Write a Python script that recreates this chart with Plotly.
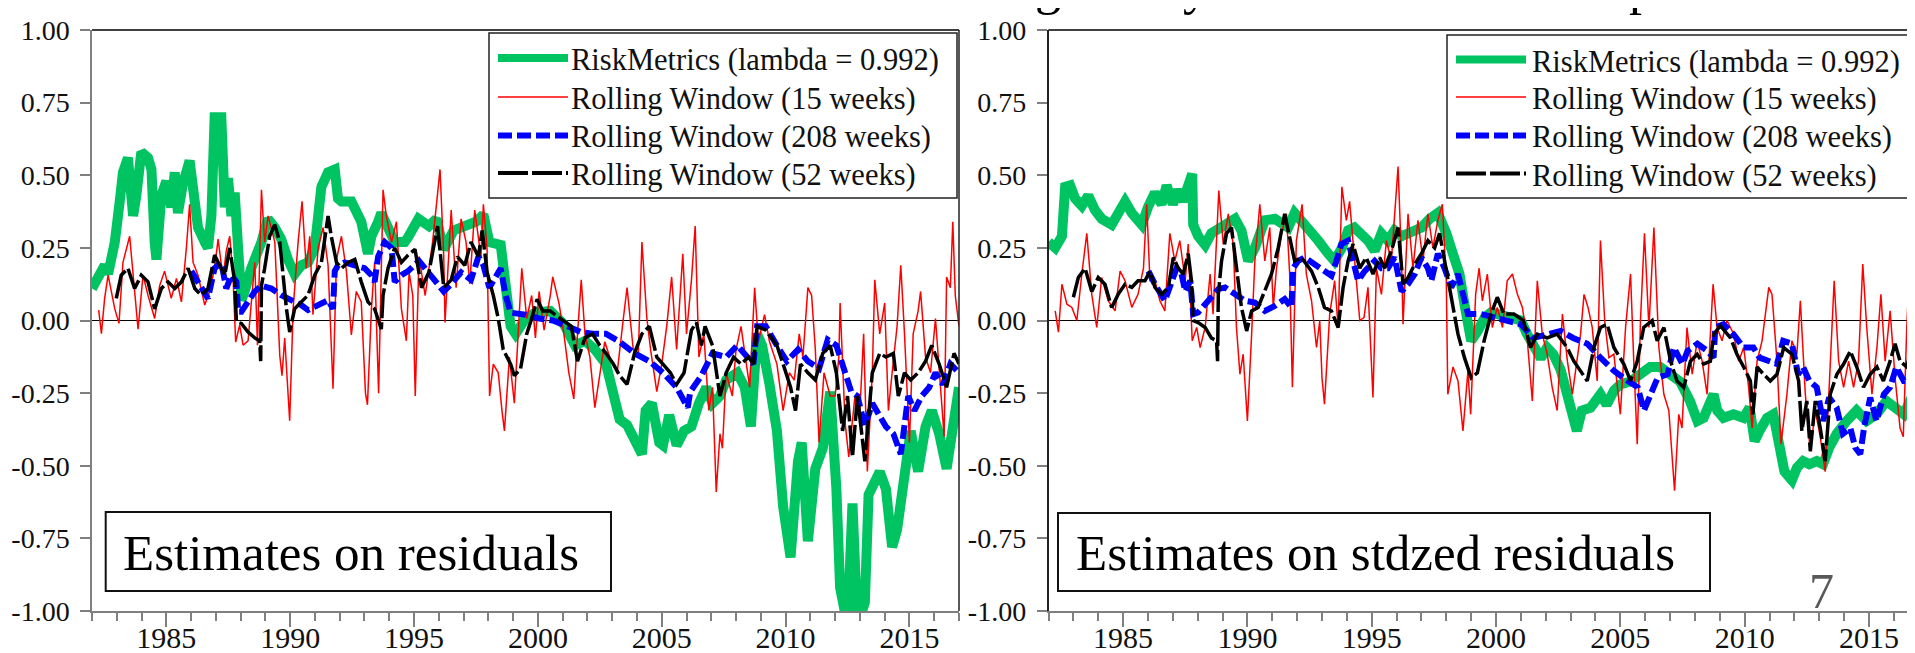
import plotly.graph_objects as go

W, H = 1915, 653

# ---------------- Panel 1: Estimates on residuals ----------------
res_rm_year = [1982.0, 1982.51, 1982.65, 1982.92, 1983.12, 1983.25, 1983.45, 1983.66, 1983.79, 1983.99,
               1984.26, 1984.4, 1984.53, 1984.6, 1984.8, 1985.0, 1985.2, 1985.34, 1985.47, 1985.67,
               1985.94, 1986.08, 1986.28, 1986.55, 1986.68, 1986.82, 1986.95, 1987.22, 1987.29, 1987.36,
               1987.49, 1987.63, 1987.76, 1987.9, 1988.03, 1988.16, 1988.43, 1988.84, 1989.1, 1989.38,
               1989.64, 1989.91, 1990.18, 1990.45, 1990.72, 1990.99, 1991.26, 1991.53, 1991.8, 1991.93,
               1992.07, 1992.47, 1992.87, 1993.14, 1993.28, 1993.55, 1993.68, 1993.95, 1994.22, 1994.62,
               1994.75, 1995.18, 1995.6, 1995.9, 1996.2, 1996.6, 1997.04, 1997.5, 1997.8, 1998.04,
               1998.5, 1998.7, 1998.9, 1999.1, 1999.5, 1999.9, 2000.5, 2001.05, 2001.5, 2001.9,
               2002.3, 2002.75, 2003.05, 2003.3, 2003.6, 2003.9, 2004.2, 2004.35, 2004.6, 2004.9,
               2005.05, 2005.3, 2005.6, 2005.9, 2006.2, 2006.5, 2006.8, 2007.05, 2007.35, 2007.6,
               2008.05, 2008.35, 2008.6, 2008.85, 2009.05, 2009.35, 2009.65, 2009.9, 2010.2, 2010.5,
               2010.65, 2010.9, 2011.2, 2011.5, 2011.8, 2012.05, 2012.2, 2012.5, 2012.7, 2012.9,
               2013.2, 2013.35, 2013.8, 2014.05, 2014.3, 2014.5, 2014.8, 2015.05, 2015.35, 2015.65,
               2015.9, 2016.2, 2016.5, 2016.8, 2017.0]
res_rm_val = [0.11, 0.19, 0.16, 0.27, 0.41, 0.51, 0.56, 0.36, 0.43, 0.58,
              0.56, 0.52, 0.27, 0.21, 0.43, 0.48, 0.39, 0.51, 0.37, 0.47,
              0.55, 0.43, 0.32, 0.27, 0.25, 0.36, 0.70, 0.70, 0.56, 0.39,
              0.49, 0.36, 0.44, 0.27, 0.07, 0.10, 0.18, 0.27, 0.35, 0.32,
              0.28, 0.21, 0.16, 0.19, 0.20, 0.25, 0.46, 0.51, 0.52, 0.42,
              0.41, 0.41, 0.34, 0.23, 0.29, 0.34, 0.37, 0.32, 0.27, 0.27,
              0.285, 0.35, 0.325, 0.35, 0.245, 0.31, 0.325, 0.34, 0.365, 0.27,
              0.26, 0.11, -0.02, -0.046, 0.007, 0.027, 0.033, -0.013, -0.086, -0.07,
              -0.10, -0.15, -0.26, -0.34, -0.36, -0.42, -0.46, -0.31, -0.285, -0.42,
              -0.43, -0.325, -0.43, -0.38, -0.365, -0.285, -0.23, -0.285, -0.26, -0.205,
              -0.18, -0.23, -0.365, -0.046, -0.086, -0.22, -0.38, -0.64, -0.815, -0.485,
              -0.42, -0.76, -0.51, -0.44, -0.245, -0.58, -0.92, -1.05, -0.63, -1.05,
              -0.97, -0.6, -0.52, -0.58, -0.78, -0.72, -0.52, -0.38, -0.52, -0.365,
              -0.31, -0.39, -0.51, -0.31, -0.23]

res_rw15_year = [1982.27, 1982.38, 1982.51, 1982.65, 1982.78, 1982.92, 1983.09, 1983.25, 1983.52, 1983.66,
                 1983.86, 1984.06, 1984.26, 1984.53, 1984.73, 1984.93, 1985.2, 1985.41, 1985.61, 1985.81,
                 1985.94, 1986.08, 1986.28, 1986.55, 1986.75, 1986.95, 1987.09, 1987.29, 1987.42, 1987.56,
                 1987.69, 1987.8, 1987.96, 1988.1, 1988.3, 1988.57, 1988.68, 1988.84, 1988.97, 1989.11,
                 1989.38, 1989.58, 1989.67, 1989.78, 1989.98, 1990.12, 1990.32, 1990.48, 1990.65, 1990.79,
                 1990.92, 1991.13, 1991.33, 1991.53, 1991.73, 1991.87, 1992.07, 1992.27, 1992.47, 1992.67,
                 1992.87, 1993.04, 1993.12, 1993.28, 1993.41, 1993.57, 1993.75, 1993.88, 1994.09, 1994.29,
                 1994.49, 1994.69, 1994.8, 1994.95, 1995.05, 1995.2, 1995.45, 1995.75, 1996.05, 1996.2,
                 1996.25, 1996.5, 1996.7, 1996.9, 1997.1, 1997.25, 1997.45, 1997.7, 1997.8, 1997.95,
                 1998.05, 1998.2, 1998.4, 1998.55, 1998.65, 1998.85, 1999.05, 1999.35, 1999.55, 1999.75,
                 1999.9, 2000.05, 2000.25, 2000.5, 2000.6, 2000.85, 2001.05, 2001.25, 2001.45, 2001.6,
                 2001.75, 2001.9, 2002.1, 2002.3, 2002.5, 2002.7, 2002.9, 2003.2, 2003.45, 2003.6,
                 2003.85, 2004.05, 2004.2, 2004.4, 2004.55, 2004.8, 2005.0, 2005.2, 2005.4, 2005.6,
                 2005.85, 2006.0, 2006.2, 2006.35, 2006.5, 2006.7, 2006.9, 2007.05, 2007.2, 2007.35,
                 2007.45, 2007.6, 2007.85, 2008.0, 2008.2, 2008.4, 2008.55, 2008.75, 2008.9, 2009.15,
                 2009.35, 2009.65, 2009.9, 2010.15, 2010.35, 2010.55, 2010.7, 2010.9, 2011.05, 2011.2,
                 2011.35, 2011.55, 2011.8, 2012.0, 2012.15, 2012.2, 2012.4, 2012.55, 2012.8, 2013.0,
                 2013.15, 2013.3, 2013.5, 2013.6, 2013.8, 2014.0, 2014.15, 2014.3, 2014.5, 2014.65,
                 2014.8, 2015.0, 2015.15, 2015.35, 2015.45, 2015.65, 2015.85, 2016.05, 2016.25, 2016.4,
                 2016.5, 2016.65, 2016.75, 2016.85, 2017.0]
res_rw15_val = [0.036, -0.045, 0.076, 0.156, 0.10, 0.04, -0.01, 0.20, 0.29, 0.156,
                -0.03, 0.156, 0.087, 0.007, 0.12, 0.17, 0.076, 0.145, 0.064, 0.25,
                0.40, 0.20, 0.156, 0.053, 0.10, 0.18, 0.28, 0.145, 0.24, 0.29,
                0.156, -0.074, -0.016, -0.085, -0.07, 0.20, -0.085, 0.45, 0.27, 0.36,
                0.27, -0.12, -0.19, -0.06, -0.345, 0.04, 0.27, 0.41, 0.18, 0.29,
                0.02, 0.25, 0.32, 0.19, -0.235, 0.21, 0.29, 0.17, -0.05, 0.10,
                0.064, -0.25, -0.29, 0.04, 0.20, -0.25, 0.45, 0.36, 0.27, 0.34,
                0.04, -0.07, 0.166, 0.086, -0.26, 0.22, 0.086, 0.27, 0.52, 0.22,
                -0.007, 0.38, 0.113, 0.35, 0.27, 0.126, 0.38, 0.22, 0.40, 0.245,
                -0.26, -0.15, -0.18, -0.31, -0.38, -0.126, -0.285, 0.18, 0.007, 0.086,
                -0.06, 0.10, -0.033, 0.086, 0.15, 0.06, -0.046, -0.18, -0.27, -0.046,
                0.14, -0.046, -0.126, -0.30, -0.18, -0.073, -0.126, -0.18, 0.007, 0.113,
                -0.10, -0.126, 0.27, 0.007, -0.10, -0.245, -0.15, -0.02, 0.15, -0.10,
                0.23, -0.046, 0.14, 0.325, -0.126, -0.046, -0.31, -0.23, -0.59, -0.39,
                -0.44, -0.18, -0.26, -0.10, -0.02, -0.15, -0.23, 0.113, -0.073, 0.02,
                -0.073, -0.15, -0.31, -0.18, -0.205, -0.046, -0.126, 0.113, 0.086, -0.10,
                -0.42, -0.18, -0.26, -0.26, -0.126, 0.06, -0.35, -0.47, -0.26, -0.31,
                -0.046, -0.52, -0.18, 0.14, -0.046, 0.06, -0.31, -0.18, -0.02, 0.19,
                -0.046, -0.42, -0.046, 0.033, 0.10, -0.126, -0.18, 0.007, -0.245, -0.40,
                0.15, 0.113, 0.34, 0.086, -0.02]

res_rw208_year = [1986.01, 1986.68, 1986.95, 1987.22, 1987.42, 1987.63, 1987.83, 1987.9, 1988.03, 1988.3,
                  1988.57, 1988.84, 1989.24, 1989.64, 1990.05, 1990.45, 1990.72, 1991.13, 1991.53, 1991.73,
                  1991.8, 1991.93, 1992.2, 1992.6, 1993.0, 1993.28, 1993.41, 1993.55, 1993.82, 1994.09,
                  1994.22, 1994.49, 1994.76, 1995.2, 1995.6, 1996.2, 1996.5, 1996.9, 1997.3, 1997.6,
                  1997.8, 1998.04, 1998.5, 1998.7, 1998.9, 1999.5, 2000.05, 2000.6, 2001.2, 2001.75,
                  2002.3, 2002.75, 2003.3, 2003.9, 2004.5, 2005.05, 2005.6, 2006.05, 2006.15, 2006.6,
                  2007.05, 2007.6, 2008.05, 2008.5, 2008.7, 2008.85, 2009.2, 2009.65, 2010.05, 2010.5,
                  2010.9, 2011.35, 2011.7, 2012.05, 2012.35, 2012.65, 2012.9, 2013.2, 2013.5, 2013.8,
                  2014.05, 2014.35, 2014.65, 2014.95, 2015.2, 2015.5, 2015.8, 2016.05, 2016.35, 2016.65,
                  2017.0]
res_rw208_val = [0.17, 0.076, 0.18, 0.20, 0.11, 0.156, 0.133, 0.03, 0.03, 0.064,
                 0.10, 0.12, 0.11, 0.087, 0.07, 0.053, 0.036, 0.053, 0.07, 0.04,
                 0.17, 0.19, 0.20, 0.19, 0.18, 0.156, 0.133, 0.22, 0.27, 0.25,
                 0.133, 0.156, 0.17, 0.205, 0.166, 0.10, 0.126, 0.166, 0.14, 0.22,
                 0.19, 0.113, 0.18, 0.086, 0.027, 0.02, 0.007, 0.0, -0.02, -0.04,
                 -0.046, -0.046, -0.073, -0.113, -0.14, -0.18, -0.23, -0.30, -0.245, -0.19,
                 -0.113, -0.126, -0.086, -0.126, -0.15, -0.02, -0.02, -0.086, -0.14, -0.10,
                 -0.14, -0.166, -0.066, -0.086, -0.166, -0.245, -0.26, -0.365, -0.285, -0.325,
                 -0.365, -0.39, -0.46, -0.26, -0.31, -0.26, -0.23, -0.18, -0.22, -0.15,
                 -0.18]

res_rw52_year = [1982.98, 1983.18, 1983.45, 1983.72, 1983.99, 1984.26, 1984.53, 1984.8, 1985.07, 1985.34,
                 1985.61, 1985.88, 1986.15, 1986.41, 1986.68, 1986.95, 1987.15, 1987.36, 1987.56, 1987.76,
                 1987.83, 1988.03, 1988.3, 1988.57, 1988.77, 1988.81, 1988.84, 1988.97, 1989.17, 1989.38,
                 1989.58, 1989.71, 1989.85, 1989.98, 1990.18, 1990.45, 1990.72, 1990.99, 1991.26, 1991.53,
                 1991.66, 1991.87, 1992.07, 1992.34, 1992.61, 1992.87, 1993.14, 1993.41, 1993.68, 1993.75,
                 1993.95, 1994.22, 1994.49, 1994.76, 1995.04, 1995.3, 1995.6, 1995.95, 1996.2, 1996.5,
                 1996.75, 1997.05, 1997.3, 1997.6, 1997.75, 1997.95, 1998.2, 1998.4, 1998.6, 1998.9,
                 1999.05, 1999.3, 1999.55, 1999.75, 1999.97, 2000.2, 2000.5, 2000.9, 2001.35, 2001.6,
                 2001.9, 2002.2, 2002.5, 2002.75, 2003.05, 2003.3, 2003.6, 2003.9, 2004.2, 2004.5,
                 2004.8, 2005.05, 2005.35, 2005.6, 2005.9, 2006.2, 2006.4, 2006.6, 2006.75, 2007.05,
                 2007.35, 2007.6, 2007.9, 2008.2, 2008.5, 2008.7, 2008.85, 2009.2, 2009.65, 2009.9,
                 2010.2, 2010.4, 2010.6, 2010.9, 2011.2, 2011.5, 2011.8, 2012.05, 2012.3, 2012.5,
                 2012.7, 2012.9, 2013.2, 2013.5, 2013.8, 2014.05, 2014.35, 2014.55, 2014.8, 2015.05,
                 2015.35, 2015.65, 2015.9, 2016.2, 2016.5, 2016.8, 2017.0]
res_rw52_val = [0.076, 0.156, 0.18, 0.11, 0.156, 0.133, 0.04, 0.11, 0.133, 0.11,
                0.133, 0.18, 0.11, 0.087, 0.11, 0.225, 0.19, 0.156, 0.25, 0.133,
                -0.005, -0.01, -0.04, -0.06, -0.07, -0.14, 0.12, 0.18, 0.29, 0.33,
                0.27, 0.156, 0.04, -0.04, 0.04, 0.064, 0.087, 0.156, 0.20, 0.36,
                0.29, 0.20, 0.18, 0.20, 0.21, 0.133, 0.064, 0.04, -0.03, 0.087,
                0.18, 0.25, 0.20, 0.225, 0.245, 0.113, 0.166, 0.325, 0.113, 0.14,
                0.22, 0.19, 0.27, 0.22, 0.31, 0.166, 0.086, 0.007, -0.10, -0.15,
                -0.19, -0.166, -0.046, 0.007, 0.073, 0.033, 0.033, 0.007, -0.02, -0.14,
                -0.06, -0.046, -0.086, -0.113, -0.15, -0.19, -0.22, -0.113, -0.046, -0.02,
                -0.126, -0.15, -0.18, -0.22, -0.18, -0.033, -0.007, -0.086, -0.02, -0.086,
                -0.26, -0.18, -0.126, -0.15, -0.126, -0.15, -0.02, -0.033, -0.086, -0.15,
                -0.23, -0.31, -0.15, -0.18, -0.205, -0.113, -0.086, -0.18, -0.38, -0.26,
                -0.47, -0.26, -0.485, -0.18, -0.113, -0.126, -0.113, -0.26, -0.18, -0.205,
                -0.18, -0.14, -0.086, -0.15, -0.23, -0.113, -0.15]

# ---------------- Panel 2: Estimates on stdzed residuals ----------------
std_rm_year = [1982.0, 1982.27, 1982.54, 1982.67, 1982.87, 1983.07, 1983.34, 1983.6, 1983.87, 1984.14,
               1984.54, 1984.8, 1985.08, 1985.35, 1985.75, 1986.0, 1986.28, 1986.55, 1986.75, 1987.0,
               1987.2, 1987.4, 1987.6, 1987.78, 1987.82, 1988.02, 1988.3, 1988.55, 1988.83, 1989.23,
               1989.5, 1989.76, 1990.03, 1990.3, 1990.7, 1991.1, 1991.37, 1991.64, 1991.9, 1992.17,
               1992.58, 1992.85, 1993.25, 1993.5, 1993.8, 1994.05, 1994.3, 1994.6, 1994.85, 1995.12,
               1995.39, 1995.65, 1995.92, 1996.2, 1996.46, 1996.73, 1997.0, 1997.33, 1997.66, 1998.0,
               1998.27, 1998.53, 1998.73, 1999.0, 1999.27, 1999.54, 1999.8, 2000.2, 2000.6, 2001.0,
               2001.25, 2001.5, 2001.8, 2002.05, 2002.3, 2002.6, 2002.85, 2003.1, 2003.25, 2003.45,
               2003.8, 2004.2, 2004.45, 2004.75, 2005.0, 2005.4, 2005.8, 2006.2, 2006.6, 2007.0,
               2007.4, 2007.8, 2008.1, 2008.35, 2008.75, 2008.9, 2009.15, 2009.55, 2009.95, 2010.2,
               2010.4, 2010.6, 2010.9, 2011.15, 2011.4, 2011.6, 2011.9, 2012.1, 2012.35, 2012.6,
               2012.9, 2013.15, 2013.4, 2013.7, 2014.1, 2014.5, 2014.9, 2015.3, 2015.7, 2016.1,
               2016.4, 2016.65, 2016.9, 2017.0]
std_rm_val = [0.27, 0.25, 0.29, 0.46, 0.465, 0.42, 0.395, 0.43, 0.38, 0.35,
              0.33, 0.37, 0.41, 0.37, 0.33, 0.39, 0.44, 0.40, 0.465, 0.40,
              0.45, 0.41, 0.45, 0.505, 0.33, 0.29, 0.26, 0.30, 0.315, 0.34,
              0.35, 0.31, 0.205, 0.25, 0.345, 0.35, 0.33, 0.32, 0.37, 0.345,
              0.31, 0.275, 0.23, 0.205, 0.25, 0.31, 0.32, 0.30, 0.275, 0.24,
              0.30, 0.275, 0.31, 0.29, 0.30, 0.31, 0.32, 0.35, 0.37, 0.30,
              0.22, 0.16, 0.056, -0.07, -0.035, 0.01, 0.028, 0.016, 0.005, 0.0,
              -0.047, -0.08, -0.13, -0.093, -0.116, -0.17, -0.24, -0.31, -0.38, -0.31,
              -0.30, -0.254, -0.29, -0.24, -0.22, -0.21, -0.185, -0.16, -0.16, -0.185,
              -0.21, -0.277, -0.346, -0.335, -0.254, -0.31, -0.335, -0.323, -0.335, -0.30,
              -0.415, -0.38, -0.335, -0.323, -0.426, -0.52, -0.55, -0.507, -0.484, -0.495,
              -0.484, -0.495, -0.438, -0.39, -0.346, -0.31, -0.346, -0.323, -0.277, -0.30,
              -0.323, -0.277, -0.23, -0.24]

std_rw15_year = [1982.27, 1982.4, 1982.54, 1982.74, 1982.94, 1983.14, 1983.34, 1983.54, 1983.74, 1983.94,
                 1984.14, 1984.4, 1984.68, 1984.88, 1985.08, 1985.35, 1985.6, 1985.82, 1985.95, 1986.08,
                 1986.28, 1986.48, 1986.68, 1986.88, 1987.08, 1987.28, 1987.5, 1987.62, 1987.78, 1987.96,
                 1988.1, 1988.3, 1988.5, 1988.62, 1988.85, 1989.03, 1989.23, 1989.43, 1989.56, 1989.7,
                 1989.83, 1990.0, 1990.17, 1990.3, 1990.5, 1990.7, 1990.9, 1991.04, 1991.17, 1991.37,
                 1991.57, 1991.7, 1991.81, 1991.97, 1992.2, 1992.37, 1992.58, 1992.78, 1992.91, 1993.0,
                 1993.1, 1993.31, 1993.51, 1993.65, 1993.8, 1993.98, 1994.11, 1994.32, 1994.52, 1994.69,
                 1994.85, 1995.05, 1995.19, 1995.39, 1995.59, 1995.79, 1996.06, 1996.2, 1996.26, 1996.46,
                 1996.66, 1996.86, 1997.06, 1997.26, 1997.46, 1997.66, 1997.84, 1998.0, 1998.06, 1998.27,
                 1998.47, 1998.67, 1998.87, 1998.98, 1999.18, 1999.32, 1999.45, 1999.65, 1999.85, 2000.05,
                 2000.26, 2000.45, 2000.66, 2000.86, 2001.06, 2001.26, 2001.46, 2001.66, 2001.86, 2002.06,
                 2002.26, 2002.46, 2002.67, 2002.87, 2003.07, 2003.4, 2003.54, 2003.7, 2003.87, 2004.07,
                 2004.2, 2004.37, 2004.54, 2004.74, 2005.0, 2005.21, 2005.41, 2005.54, 2005.68, 2005.81,
                 2005.97, 2006.15, 2006.35, 2006.55, 2006.75, 2006.95, 2007.18, 2007.35, 2007.48, 2007.68,
                 2007.89, 2008.09, 2008.29, 2008.49, 2008.73, 2008.89, 2009.09, 2009.29, 2009.56, 2009.76,
                 2009.96, 2010.16, 2010.3, 2010.5, 2010.7, 2010.97, 2011.1, 2011.3, 2011.46, 2011.7,
                 2011.9, 2012.1, 2012.24, 2012.44, 2012.64, 2012.84, 2013.04, 2013.24, 2013.44, 2013.6,
                 2013.78, 2013.98, 2014.18, 2014.38, 2014.58, 2014.75, 2014.91, 2015.12, 2015.32, 2015.48,
                 2015.65, 2015.85, 2016.05, 2016.25, 2016.38, 2016.52, 2016.63, 2016.76, 2016.85, 2016.98]
std_rw15_val = [0.033, -0.04, 0.125, 0.056, 0.045, 0.0, 0.16, 0.30, 0.09, -0.024,
                0.148, 0.068, 0.033, 0.17, 0.137, 0.045, 0.09, 0.18, 0.40, 0.137,
                0.137, 0.068, 0.033, 0.30, 0.205, 0.275, 0.137, 0.263, -0.07, -0.024,
                -0.093, -0.024, 0.16, 0.022, 0.447, 0.263, 0.367, 0.263, -0.024, -0.185,
                -0.116, -0.346, -0.047, 0.205, 0.40, 0.205, 0.32, 0.045, 0.18, 0.30,
                0.367, 0.16, -0.23, 0.275, 0.40, 0.16, 0.068, -0.093, 0.0, -0.197,
                -0.288, 0.022, 0.137, -0.024, 0.46, 0.345, 0.41, 0.205, 0.0, 0.01,
                0.114, -0.265, 0.18, 0.09, 0.275, 0.205, 0.53, 0.205, -0.013, 0.367,
                0.18, 0.345, 0.205, 0.367, 0.25, 0.345, 0.40, 0.137, -0.254, -0.16,
                -0.208, -0.38, -0.174, -0.323, 0.09, 0.18, 0.068, 0.16, -0.024, 0.045,
                -0.024, 0.137, 0.16, 0.09, 0.045, -0.07, -0.277, 0.137, -0.047, -0.116,
                -0.23, -0.31, 0.022, -0.14, -0.254, -0.047, 0.09, 0.045, -0.024, -0.208,
                0.275, 0.0, -0.128, -0.116, -0.323, -0.024, 0.16, -0.14, -0.426, 0.0,
                0.30, -0.024, 0.32, -0.093, -0.254, -0.31, -0.586, -0.323, -0.37, -0.024,
                -0.185, -0.07, -0.14, -0.254, 0.125, -0.024, -0.07, 0.0, -0.047, -0.14,
                -0.093, -0.23, -0.37, -0.14, -0.07, 0.114, 0.09, -0.14, -0.426, -0.254,
                -0.07, -0.116, 0.068, -0.254, -0.45, -0.31, -0.40, -0.52, -0.14, 0.137,
                -0.14, -0.23, -0.14, -0.23, -0.14, 0.194, -0.024, -0.254, -0.093, 0.09,
                -0.14, 0.033, -0.197, -0.37, -0.40, -0.024, 0.18, 0.345, 0.09, -0.14]

std_rw208_year = [1986.02, 1986.28, 1986.68, 1986.95, 1987.15, 1987.35, 1987.5, 1987.7, 1987.82, 1988.02,
                  1988.3, 1988.55, 1988.83, 1989.1, 1989.5, 1989.9, 1990.3, 1990.7, 1991.1, 1991.5,
                  1991.77, 1991.84, 1992.04, 1992.3, 1992.7, 1993.1, 1993.38, 1993.58, 1993.78, 1994.05,
                  1994.25, 1994.45, 1994.72, 1995.12, 1995.39, 1995.65, 1995.92, 1996.2, 1996.46, 1996.73,
                  1997.0, 1997.26, 1997.4, 1997.66, 1997.93, 1998.2, 1998.47, 1998.67, 1998.87, 1999.4,
                  1999.92, 2000.45, 2001.0, 2001.5, 2002.05, 2002.6, 2003.1, 2003.67, 2004.2, 2004.75,
                  2005.3, 2005.7, 2005.95, 2006.2, 2006.5, 2006.9, 2007.15, 2007.5, 2007.7, 2008.1,
                  2008.5, 2008.75, 2008.82, 2009.15, 2009.55, 2009.95, 2010.35, 2010.6, 2011.0, 2011.3,
                  2011.55, 2011.9, 2012.15, 2012.35, 2012.6, 2012.9, 2013.15, 2013.4, 2013.7, 2013.95,
                  2014.25, 2014.45, 2014.65, 2014.8, 2015.05, 2015.3, 2015.6, 2015.85, 2016.1, 2016.4,
                  2016.65, 2016.85, 2017.0]
std_rw208_val = [0.17, 0.125, 0.068, 0.137, 0.18, 0.16, 0.10, 0.137, 0.022, 0.028,
                 0.056, 0.08, 0.108, 0.114, 0.09, 0.068, 0.062, 0.033, 0.05, 0.074,
                 0.045, 0.18, 0.205, 0.217, 0.194, 0.17, 0.154, 0.205, 0.263, 0.275,
                 0.205, 0.137, 0.17, 0.205, 0.18, 0.18, 0.217, 0.10, 0.125, 0.16,
                 0.217, 0.18, 0.137, 0.23, 0.18, 0.114, 0.16, 0.09, 0.022, 0.022,
                 0.01, 0.0, -0.013, -0.06, -0.047, -0.036, -0.06, -0.08, -0.128, -0.174,
                 -0.208, -0.23, -0.31, -0.254, -0.197, -0.185, -0.093, -0.15, -0.105, -0.08,
                 -0.105, -0.128, -0.024, -0.013, -0.047, -0.093, -0.093, -0.128, -0.14, -0.15,
                 -0.07, -0.08, -0.185, -0.16, -0.208, -0.23, -0.346, -0.265, -0.30, -0.39,
                 -0.37, -0.438, -0.46, -0.37, -0.265, -0.346, -0.254, -0.23, -0.16, -0.208,
                 -0.208, -0.116, -0.16]

std_rw52_year = [1983.0, 1983.2, 1983.47, 1983.74, 1984.0, 1984.27, 1984.54, 1984.8, 1985.08, 1985.35,
                 1985.6, 1985.88, 1986.08, 1986.28, 1986.55, 1986.82, 1987.02, 1987.22, 1987.42, 1987.62,
                 1987.75, 1987.82, 1988.02, 1988.3, 1988.55, 1988.76, 1988.8, 1988.83, 1988.96, 1989.16,
                 1989.36, 1989.56, 1989.76, 1989.97, 1990.17, 1990.43, 1990.7, 1990.97, 1991.24, 1991.5,
                 1991.7, 1991.9, 1992.17, 1992.58, 1992.85, 1993.1, 1993.38, 1993.65, 1993.85, 1994.05,
                 1994.25, 1994.52, 1994.78, 1995.05, 1995.32, 1995.52, 1995.79, 1996.06, 1996.26, 1996.46,
                 1996.73, 1997.0, 1997.26, 1997.53, 1997.73, 1997.93, 1998.2, 1998.47, 1998.73, 1999.0,
                 1999.25, 1999.52, 1999.8, 2000.05, 2000.32, 2000.72, 2001.1, 2001.39, 2001.66, 2002.06,
                 2002.46, 2002.86, 2003.13, 2003.47, 2003.67, 2003.94, 2004.2, 2004.47, 2004.74, 2005.14,
                 2005.41, 2005.68, 2005.94, 2006.28, 2006.48, 2006.75, 2007.02, 2007.28, 2007.55, 2007.82,
                 2008.09, 2008.35, 2008.62, 2008.76, 2009.02, 2009.43, 2009.69, 2009.96, 2010.23, 2010.33,
                 2010.5, 2010.76, 2011.03, 2011.3, 2011.57, 2011.9, 2012.17, 2012.3, 2012.5, 2012.64,
                 2012.84, 2013.04, 2013.24, 2013.44, 2013.71, 2013.98, 2014.25, 2014.51, 2014.78, 2015.05,
                 2015.32, 2015.58, 2015.85, 2016.05, 2016.25, 2016.52, 2016.72, 2016.92, 2017.0]
std_rw52_val = [0.08, 0.148, 0.18, 0.10, 0.148, 0.125, 0.045, 0.09, 0.125, 0.114,
                0.137, 0.137, 0.17, 0.114, 0.09, 0.114, 0.217, 0.18, 0.16, 0.23,
                0.137, 0.0, -0.007, -0.024, -0.06, -0.07, -0.14, 0.09, 0.205, 0.30,
                0.32, 0.18, 0.045, -0.036, 0.033, 0.045, 0.10, 0.16, 0.25, 0.367,
                0.286, 0.205, 0.217, 0.17, 0.114, 0.045, 0.033, -0.024, 0.114, 0.205,
                0.263, 0.18, 0.217, 0.16, 0.217, 0.18, 0.24, 0.32, 0.125, 0.148,
                0.194, 0.23, 0.275, 0.25, 0.30, 0.205, 0.068, -0.047, -0.128, -0.197,
                -0.18, -0.07, 0.022, 0.08, 0.022, 0.022, 0.0, -0.093, -0.047, -0.06,
                -0.047, -0.093, -0.14, -0.185, -0.208, -0.093, -0.024, -0.013, -0.093, -0.15,
                -0.208, -0.14, -0.024, 0.0, -0.07, -0.024, -0.14, -0.208, -0.23, -0.14,
                -0.116, -0.15, -0.14, -0.047, -0.018, -0.06, -0.116, -0.16, -0.208, -0.323,
                -0.16, -0.185, -0.208, -0.185, -0.093, -0.116, -0.208, -0.38, -0.277, -0.45,
                -0.277, -0.37, -0.484, -0.254, -0.185, -0.15, -0.105, -0.16, -0.23, -0.185,
                -0.16, -0.208, -0.14, -0.08, -0.14, -0.16, -0.093, -0.14, -0.116]

# ---------------- styling ----------------
series_names = ["RiskMetrics (lambda = 0.992)", "Rolling Window (15 weeks)",
                "Rolling Window (208 weeks)", "Rolling Window (52 weeks)"]
series_colors = ["#00C462", "#FF0000", "#0000FF", "#000000"]
series_widths = [10, 1.5, 6, 3.5]
legend_widths = [8, 1.5, 6, 4]
series_dash = ["solid", "solid", "14px,5px", "30px,4px"]
year_ticks = [1985, 1990, 1995, 2000, 2005, 2010, 2015]
y_ticks = [1.0, 0.75, 0.5, 0.25, 0.0, -0.25, -0.5, -0.75, -1.0]
y_ticktext = ["1.00", "0.75", "0.50", "0.25", "0.00", "-0.25", "-0.50", "-0.75", "-1.00"]
panel_labels = ["Estimates on residuals", "Estimates on stdzed residuals"]

FONT = "Liberation Serif"
GRAY = "#7f7f7f"

panels = [
    [(res_rm_year, res_rm_val), (res_rw15_year, res_rw15_val),
     (res_rw208_year, res_rw208_val), (res_rw52_year, res_rw52_val)],
    [(std_rm_year, std_rm_val), (std_rw15_year, std_rw15_val),
     (std_rw208_year, std_rw208_val), (std_rw52_year, std_rw52_val)],
]

fig = go.Figure()
for p, series in enumerate(panels):
    xa = "x" if p == 0 else "x2"
    ya = "y" if p == 0 else "y2"
    for i, (xs, ys) in enumerate(series):
        fig.add_trace(go.Scatter(
            x=xs, y=ys, mode="lines", name=series_names[i], showlegend=False,
            xaxis=xa, yaxis=ya,
            line=dict(color=series_colors[i], width=series_widths[i], dash=series_dash[i],
                      shape="linear"),
        ))

def px_x(v):
    return v / W

def px_y(v):
    return 1 - v / H

# panel geometry (pixels)
panel_px = [(84, 951), (1040.5, 1910.7)]
top_px, bot_px = 22, 603

def xaxis_cfg(dom, anchor):
    return dict(
        domain=[px_x(dom[0]), px_x(dom[1])], range=[1982, 2017], anchor=anchor,
        tickmode="array", tickvals=year_ticks, ticktext=[str(t) for t in year_ticks],
        ticks="outside", ticklen=14, tickwidth=1.5, tickcolor=GRAY,
        minor=dict(tickmode="linear", tick0=1982, dtick=1, ticks="outside",
                   ticklen=8, tickwidth=1.5, tickcolor=GRAY),
        showline=True, linecolor=GRAY, linewidth=1.5,
        showgrid=False, zeroline=False, automargin=False, ticklabelstandoff=-15,
        tickfont=dict(family=FONT, size=30, color="#111111"),
    )

def yaxis_cfg(anchor, line_color):
    return dict(
        domain=[px_y(bot_px), px_y(top_px)], range=[-1, 1], anchor=anchor,
        tickmode="array", tickvals=y_ticks, ticktext=y_ticktext,
        ticks="outside", ticklen=10, tickwidth=1.5, tickcolor=GRAY,
        showline=True, linecolor=line_color, linewidth=1.5,
        showgrid=False, zeroline=True, zerolinecolor="#000000", zerolinewidth=1,
        automargin=False, ticklabelstandoff=5,
        tickfont=dict(family=FONT, size=28, color="#111111"),
    )

shapes = []
annotations = []

# plot frames: top and right border lines
for (x0, x1) in panel_px:
    shapes.append(dict(type="line", xref="paper", yref="paper",
                       x0=px_x(x0), x1=px_x(x1), y0=px_y(top_px), y1=px_y(top_px),
                       line=dict(color="#000000", width=1.5)))
    shapes.append(dict(type="line", xref="paper", yref="paper",
                       x0=px_x(x1), x1=px_x(x1), y0=px_y(top_px), y1=px_y(bot_px),
                       line=dict(color="#222222", width=1.5)))

# custom legends
legend_geo = [
    dict(box=(481, 949, 25, 190), s0=490, s1=560, tx=561, rows=[50, 89, 127.5, 165]),
    dict(box=(1439, 1909, 27, 190), s0=1448, s1=1518, tx=1522, rows=[51.5, 89, 127.5, 165.5]),
]
for lg in legend_geo:
    bx0, bx1, by0, by1 = lg["box"]
    shapes.append(dict(type="rect", xref="paper", yref="paper",
                       x0=px_x(bx0), x1=px_x(bx1), y0=px_y(by1), y1=px_y(by0),
                       line=dict(color="#222222", width=1.5), fillcolor="white", layer="above"))
    for i, ry in enumerate(lg["rows"]):
        shapes.append(dict(type="line", xref="paper", yref="paper",
                           x0=px_x(lg["s0"]), x1=px_x(lg["s1"]), y0=px_y(ry), y1=px_y(ry),
                           line=dict(color=series_colors[i], width=legend_widths[i],
                                     dash=series_dash[i])))
        annotations.append(dict(xref="paper", yref="paper", x=px_x(lg["tx"]), y=px_y(ry + 2),
                                xanchor="left", yanchor="middle", showarrow=False,
                                text=series_names[i],
                                font=dict(family=FONT, size=30.5, color="#111111")))

# panel label boxes
label_geo = [(97.7, 603, 504, 583, 113), (1050, 1702, 505, 583, 1066)]
for k, (x0, x1, y0, y1, tx) in enumerate(label_geo):
    shapes.append(dict(type="rect", xref="paper", yref="paper",
                       x0=px_x(x0), x1=px_x(x1), y0=px_y(y1), y1=px_y(y0),
                       line=dict(color="#111111", width=2), fillcolor="white", layer="above"))
    annotations.append(dict(xref="paper", yref="paper", x=px_x(tx), y=px_y((y0 + y1) / 2 + 1),
                            xanchor="left", yanchor="middle", showarrow=False,
                            text=panel_labels[k],
                            font=dict(family=FONT, size=51, color="#000000")))

# slide page number
annotations.append(dict(xref="paper", yref="paper", x=px_x(1813), y=px_y(583),
                        xanchor="center", yanchor="middle", showarrow=False, text="7",
                        font=dict(family=FONT, size=50, color="#595959")))

# descenders of the cut-off slide title above the charts
for ch, cx in [("g", 1040), ("y", 1188), ("p", 1634)]:
    annotations.append(dict(xref="paper", yref="paper", x=px_x(cx), y=px_y(9),
                            xanchor="center", yanchor="bottom", showarrow=False, text=ch,
                            font=dict(family=FONT, size=52, color="#000000")))

fig.update_layout(
    width=W, height=H,
    margin=dict(l=0, r=0, t=0, b=0, pad=0),
    paper_bgcolor="white", plot_bgcolor="white",
    showlegend=False,
    xaxis=xaxis_cfg(panel_px[0], "y"),
    yaxis=yaxis_cfg("x", GRAY),
    xaxis2=xaxis_cfg(panel_px[1], "y2"),
    yaxis2=yaxis_cfg("x2", "#222222"),
    shapes=shapes,
    annotations=annotations,
)

fig.write_html("out.html")
